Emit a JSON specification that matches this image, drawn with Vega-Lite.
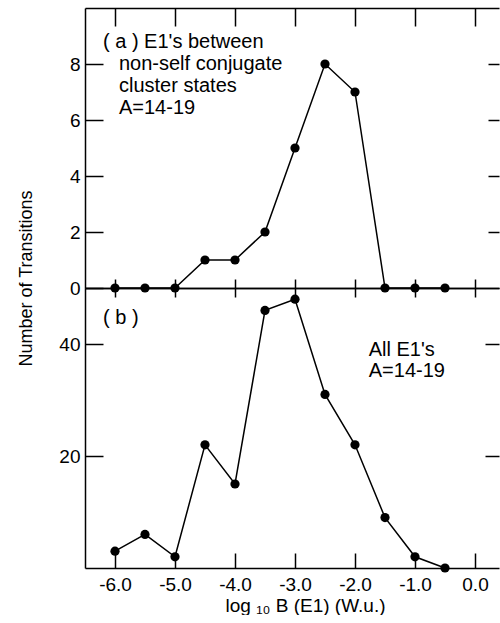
{
  "$schema": "https://vega.github.io/schema/vega-lite/v6.json",
  "background": "white",
  "padding": {"left": 17, "top": 7, "right": 0, "bottom": 0},
  "spacing": 0,
  "bounds": "flush",
  "config": {
    "view": {"stroke": null},
    "font": "Liberation Sans",
    "axis": {
      "grid": false,
      "domainColor": "black",
      "domainWidth": 1.5,
      "tickColor": "black",
      "tickWidth": 1.5,
      "labelColor": "black",
      "labelFont": "Liberation Sans",
      "labelFontSize": 19,
      "titleFont": "Liberation Sans",
      "titleFontSize": 18,
      "titleFontWeight": "normal",
      "titleColor": "black"
    },
    "text": {"font": "Liberation Sans", "fontSize": 20, "color": "black", "align": "left", "baseline": "alphabetic", "lineHeight": 21.7}
  },
  "datasets": {
    "a": [
      {"logB": -6.0, "count": 0}, {"logB": -5.5, "count": 0}, {"logB": -5.0, "count": 0},
      {"logB": -4.5, "count": 1}, {"logB": -4.0, "count": 1}, {"logB": -3.5, "count": 2},
      {"logB": -3.0, "count": 5}, {"logB": -2.5, "count": 8}, {"logB": -2.0, "count": 7},
      {"logB": -1.5, "count": 0}, {"logB": -1.0, "count": 0}, {"logB": -0.5, "count": 0}
    ],
    "b": [
      {"logB": -6.0, "count": 3}, {"logB": -5.5, "count": 6}, {"logB": -5.0, "count": 2},
      {"logB": -4.5, "count": 22}, {"logB": -4.0, "count": 15}, {"logB": -3.5, "count": 46},
      {"logB": -3.0, "count": 48}, {"logB": -2.5, "count": 31}, {"logB": -2.0, "count": 22},
      {"logB": -1.5, "count": 9}, {"logB": -1.0, "count": 2}, {"logB": -0.5, "count": 0}
    ]
  },
  "vconcat": [
    {
      "width": 414,
      "height": 280,
      "data": {"name": "a"},
      "layer": [
        {
          "mark": {"type": "line", "color": "black", "strokeWidth": 1.5},
          "encoding": {
            "x": {"field": "logB", "type": "quantitative", "scale": {"domain": [-6.5, 0.4], "nice": false, "zero": false},
              "axis": {"orient": "bottom", "values": [-6, -5, -4, -3, -2, -1, 0], "labels": false, "title": null, "tickSize": -9}},
            "y": {"field": "count", "type": "quantitative", "scale": {"domain": [0, 10], "nice": false},
              "axis": {"orient": "left", "values": [0, 2, 4, 6, 8], "tickSize": -18, "labelPadding": 23,
                "title": "Number of Transitions", "titleX": -50, "titleY": 270}}
          }
        },
        {
          "mark": {"type": "point", "filled": true, "color": "black", "size": 85, "opacity": 1},
          "encoding": {
            "x": {"field": "logB", "type": "quantitative",
              "axis": {"orient": "top", "values": [-6, -5, -4, -3, -2, -1, 0], "labels": false, "title": null, "tickSize": -18}},
            "y": {"field": "count", "type": "quantitative",
              "axis": {"orient": "right", "values": [2, 4, 6, 8], "labels": false, "title": null, "tickSize": -11, "domain": false}}
          }
        },
        {
          "data": {"values": [{"note": "( a ) E1's between"}]},
          "mark": {"type": "text"},
          "encoding": {
            "x": {"datum": -6.2, "type": "quantitative", "axis": null},
            "y": {"datum": 8.57, "type": "quantitative", "axis": null},
            "text": {"field": "note"}
          }
        },
        {
          "data": {"values": [{"note": ["non-self conjugate", "cluster states", "A=14-19"]}]},
          "mark": {"type": "text"},
          "encoding": {
            "x": {"datum": -5.934, "type": "quantitative", "axis": null},
            "y": {"datum": 7.78, "type": "quantitative", "axis": null},
            "text": {"field": "note"}
          }
        }
      ],
      "resolve": {"axis": {"x": "independent", "y": "independent"}}
    },
    {
      "width": 414,
      "height": 280,
      "data": {"name": "b"},
      "layer": [
        {
          "mark": {"type": "line", "color": "black", "strokeWidth": 1.5},
          "encoding": {
            "x": {"field": "logB", "type": "quantitative", "scale": {"domain": [-6.5, 0.4], "nice": false, "zero": false},
              "axis": {"orient": "bottom", "values": [-6, -5, -4, -3, -2, -1, 0],
                "labelExpr": "datum.value < 0 ? '-' + format(-datum.value, '.1f') : format(datum.value, '.1f')",
                "tickSize": -15, "labelPadding": 22,
                "title": "log ₁₀ B (E1)  (W.u.)", "titlePadding": 2, "titleX": 220, "titleFontSize": 19}},
            "y": {"field": "count", "type": "quantitative", "scale": {"domain": [0, 50], "nice": false},
              "axis": {"orient": "left", "values": [20, 40], "tickSize": -18, "labelPadding": 23, "title": null}}
          }
        },
        {
          "mark": {"type": "point", "filled": true, "color": "black", "size": 85, "opacity": 1},
          "encoding": {
            "x": {"field": "logB", "type": "quantitative",
              "axis": {"orient": "top", "values": [-6, -5, -4, -3, -2, -1, 0], "labels": false, "title": null, "tickSize": -9}},
            "y": {"field": "count", "type": "quantitative",
              "axis": {"orient": "right", "values": [20, 40], "labels": false, "title": null, "tickSize": -14, "domain": false}}
          }
        },
        {
          "data": {"values": [{"note": "( b )"}]},
          "mark": {"type": "text"},
          "encoding": {
            "x": {"datum": -6.2, "type": "quantitative", "axis": null},
            "y": {"datum": 43.6, "type": "quantitative", "axis": null},
            "text": {"field": "note"}
          }
        },
        {
          "data": {"values": [{"note": ["All E1's", "A=14-19"]}]},
          "mark": {"type": "text"},
          "encoding": {
            "x": {"datum": -1.771, "type": "quantitative", "axis": null},
            "y": {"datum": 37.9, "type": "quantitative", "axis": null},
            "text": {"field": "note"}
          }
        }
      ],
      "resolve": {"axis": {"x": "independent", "y": "independent"}}
    }
  ]
}
